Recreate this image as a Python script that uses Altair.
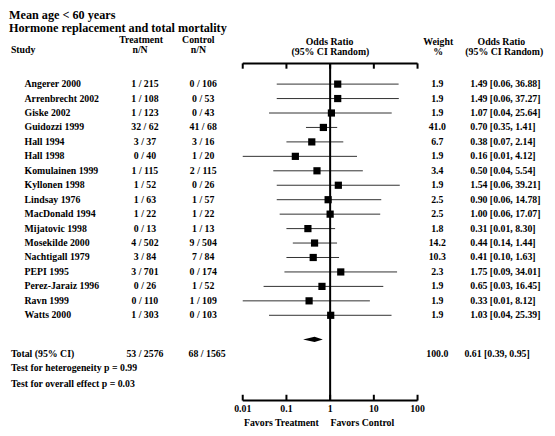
import altair as alt
import pandas as pd

# ---------------- data ----------------
studies = ["Angerer 2000", "Arrenbrecht 2002", "Giske 2002", "Guidozzi 1999", "Hall 1994",
           "Hall 1998", "Komulainen 1999", "Kyllonen 1998", "Lindsay 1976", "MacDonald 1994",
           "Mijatovic 1998", "Mosekilde 2000", "Nachtigall 1979", "PEPI 1995",
           "Perez-Jaraiz 1996", "Ravn 1999", "Watts 2000"]
treat_nN = ["1 / 215", "1 / 108", "1 / 123", "32  / 62", "3 / 37", "0 / 40", "1 / 115", "1 / 52",
            "1 / 63", "1 / 22", "0 / 13", "4 / 502", "3 / 84", "3 / 701", "0 / 26", "0 / 110", "1 / 303"]
ctrl_nN = ["0 / 106", "0 / 53", "0 / 43", "41 / 68", "3 / 16", "1 / 20", "2 / 115", "0 / 26",
           "1 / 57", "1 / 22", "1 / 13", "9 / 504", "7 / 84", "0 / 174", "1 / 52", "1 / 109", "0 / 103"]
odds = [1.49, 1.49, 1.07, 0.70, 0.38, 0.16, 0.50, 1.54, 0.90, 1.00, 0.31, 0.44, 0.41, 1.75, 0.65, 0.33, 1.03]
# CI line ends as drawn in the figure
ci_low = [0.06, 0.06, 0.04, 0.28, 0.10, 0.01, 0.05, 0.06, 0.06, 0.07, 0.10, 0.14, 0.10, 0.09, 0.03, 0.01, 0.04]
ci_high = [36.88, 37.27, 25.64, 1.45, 2.00, 4.12, 5.60, 39.21, 14.78, 14.0, 1.30, 1.44, 1.60, 34.01, 16.45, 8.12, 25.39]
weights = ["1.9", "1.9", "1.9", "41.0", "6.7", "1.9", "3.4", "1.9", "2.5", "2.5", "1.8", "14.2", "10.3",
           "2.3", "1.9", "1.9", "1.9"]
or_labels = ["1.49 [0.06, 36.88]", "1.49 [0.06, 37.27]", "1.07 [0.04, 25.64]", "0.70 [0.35, 1.41]",
             "0.38 [0.07, 2.14]", "0.16 [0.01, 4.12]", "0.50 [0.04, 5.54]", "1.54 [0.06, 39.21]",
             "0.90 [0.06, 14.78]", "1.00 [0.06, 17.07]", "0.31 [0.01, 8.30]", "0.44 [0.14, 1.44]",
             "0.41 [0.10, 1.63]", "1.75 [0.09, 34.01]", "0.65 [0.03, 16.45]", "0.33 [0.01, 8.12]",
             "1.03 [0.04, 25.39]"]

total_treat = "53 / 2576"
total_ctrl = "68 / 1565"
total_weight = "100.0"
total_label = "0.61 [0.39, 0.95]"
diamond_x = [0.24, 0.44, 0.68]          # diamond as drawn (low, centre, high)
tick_values = [0.01, 0.1, 1, 10, 100]
tick_labels = ["0.01", "0.1", "1", "10", "100"]

# ---------------- layout ----------------
W, H = 539, 420
KX, KY = W / 555, H / 436
def sx(v): return v * KX
def sy(v): return v * KY

FONT = "Liberation Serif"
FS = 9.8
n = len(studies)
TOTAL_ROW = (n - 1) + 5 / 3.0

xscale = alt.Scale(type="log", domain=[0.01, 100], range=[sx(241.7), sx(421.7)], nice=False)
yscale = alt.Scale(domain=[0, n - 1], range=[sy(79), sy(319)], nice=False, zero=False)

def X(f): return alt.X(f, type="quantitative", scale=xscale, axis=None)
def Y(f): return alt.Y(f, type="quantitative", scale=yscale, axis=None)

rows = pd.DataFrame({"row": list(range(n)), "study": studies, "treat": treat_nN, "ctrl": ctrl_nN,
                     "or": odds, "lo": ci_low, "hi": ci_high, "w": weights, "lab": or_labels})
ticks = pd.DataFrame({"t": tick_values, "lab": tick_labels})
ends = pd.DataFrame({"a": [tick_values[0]], "b": [tick_values[-1]]})
one = pd.DataFrame({"t": [1]})
dh = 2.7 / 15
diamond = pd.DataFrame({"x": diamond_x, "y0": [TOTAL_ROW, TOTAL_ROW - dh, TOTAL_ROW],
                        "y1": [TOTAL_ROW, TOTAL_ROW + dh, TOTAL_ROW]})

base = alt.Chart(rows)

ci = base.mark_rule(color="#333333", strokeWidth=1).encode(x=X("lo"), x2="hi", y=Y("row"))
sq = base.mark_point(shape="square", filled=True, size=52, color="black", opacity=1).encode(
    x=X("or"), y=Y("row"))

def col(field, x, align):
    return base.mark_text(font=FONT, fontWeight="bold", fontSize=FS, align=align, baseline="middle",
                          color="black").encode(text=f"{field}:N", x=alt.value(sx(x)), y=Y("row"))

c_study = col("study", 17, "left")
c_treat = col("treat", 141, "center")
c_ctrl = col("ctrl", 201, "center")
c_w = col("w", 442, "center")
c_lab = col("lab", 476, "left")

vline = alt.Chart(one).mark_rule(color="black", strokeWidth=2).encode(
    x=X("t"), y=alt.value(sy(57.5)), y2=alt.value(sy(407.5)))
top = alt.Chart(ends).mark_rule(color="black", strokeWidth=2).encode(
    x=X("a"), x2="b", y=alt.value(sy(57.5)))
top_ticks = alt.Chart(ticks).mark_rule(color="black", strokeWidth=2).encode(
    x=X("t"), y=alt.value(sy(57.5)), y2=alt.value(sy(63)))
bot = alt.Chart(ends).mark_rule(color="black", strokeWidth=2).encode(
    x=X("a"), x2="b", y=alt.value(sy(407.5)))
bot_ticks = alt.Chart(ticks).mark_rule(color="black", strokeWidth=2).encode(
    x=X("t"), y=alt.value(sy(401.5)), y2=alt.value(sy(407.5)))
tick_text = alt.Chart(ticks).mark_text(font=FONT, fontWeight="bold", fontSize=FS, baseline="middle",
                                       color="black").encode(
    x=X("t"), y=alt.value(sy(416)), text="lab:N")
dia = alt.Chart(diamond).mark_area(color="black", orient="vertical", opacity=1).encode(
    x=X("x"), y=Y("y0"), y2="y1")

def label(text, x, y, align="center", size=FS):
    return alt.Chart(pd.DataFrame({"t": [text]})).mark_text(
        font=FONT, fontWeight="bold", fontSize=size, align=align, baseline="middle", color="black"
    ).encode(text="t:N", x=alt.value(sx(x)), y=alt.value(sy(y)))

labels = [
    label("Mean age < 60 years", 1, 7.5, "left", 12.2),
    label("Hormone replacement and total mortality", 1, 20.5, "left", 12.2),
    label("Study", 3, 44, "left"),
    label("Treatment", 137, 33),
    label("n/N", 136, 44),
    label("Control", 196, 33),
    label("n/N", 196, 44),
    label("Odds Ratio", 331, 35),
    label("(95% CI Random)", 332, 46),
    label("Weight", 443, 35),
    label("%", 443, 46),
    label("Odds Ratio", 508, 35),
    label("(95% CI Random)", 511, 46),
    label("Total (95% CI)", 3, 359, "left"),
    label(total_treat, 141, 359),
    label(total_ctrl, 205, 359),
    label(total_weight, 442, 359),
    label(total_label, 470, 359, "left"),
    label("Test for heterogeneity p = 0.99", 3, 374, "left"),
    label("Test for overall effect p = 0.03", 3, 390, "left"),
    label("Favors Treatment", 320, 431, "right"),
    label("Favors Control", 332, 431, "left"),
]

chart = alt.layer(
    ci, vline, top, top_ticks, bot, bot_ticks, tick_text, dia, sq,
    c_study, c_treat, c_ctrl, c_w, c_lab, *labels
).properties(
    width=W, height=H, autosize=alt.AutoSizeParams(type="none"), padding=0, background="white"
).configure_view(stroke=None)

chart.save("out.html", embed_options={"renderer": "svg", "actions": False})
